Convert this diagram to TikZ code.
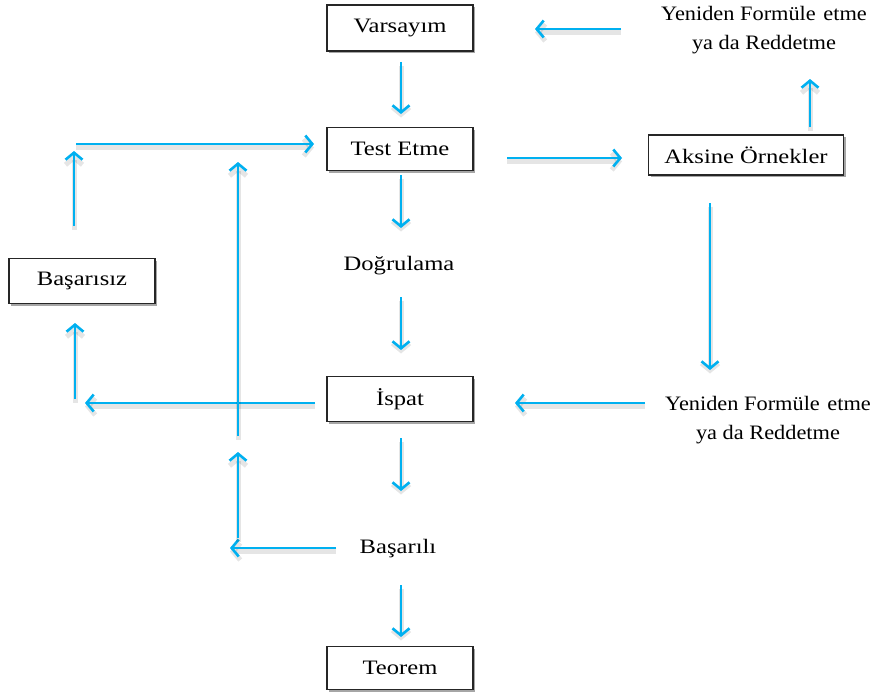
\documentclass[tikz,border=0pt]{standalone}
\usepackage{fontspec}
\setmainfont[FakeStretch=1.2]{Liberation Serif}
\newfontfamily\notefont[FakeStretch=1.09]{Liberation Serif}
\usetikzlibrary{arrows.meta,shadows}
\definecolor{arrowblue}{HTML}{00B0F0}
\tikzset{
  every node/.style={font=\fontsize{20.5}{29}\selectfont, align=center},
  box/.style={draw=black!85, line width=1.4pt, fill=white, inner sep=0pt,
    drop shadow={shadow xshift=2.2pt, shadow yshift=-2.2pt, fill=black, opacity=0.35}},
  label/.style={inner sep=0pt},
  note/.style={inner sep=0pt, font=\notefont\fontsize{20.5}{29}\selectfont},
  flow/.style={draw=arrowblue, line width=2.6pt,
    -{Straight Barb[length=7pt,width=17pt]},
    preaction={draw=black, opacity=0.10, line width=5pt,
      transform canvas={yshift=-3.5pt}}}
}
\begin{document}
\begin{tikzpicture}[x=1pt,y=-1pt]
\useasboundingbox[fill=white] (0,0) rectangle (872,693);

% boxed steps
\node[box, minimum width=146pt, minimum height=46pt] (hyp)  at (400,28)  {Varsayım};
\node[box, minimum width=146pt, minimum height=43pt] (test) at (400,149) {Test Etme};
\node[box, minimum width=195pt, minimum height=40pt] (cex)  at (746,155) {Aksine Örnekler};
\node[box, minimum width=146pt, minimum height=45pt] (fail) at (82,281)  {Başarısız};
\node[box, minimum width=146pt, minimum height=45pt] (proof) at (400,399) {İspat};
\node[box, minimum width=146pt, minimum height=43pt] (thm)  at (400,668) {Teorem};

% free labels
\node[note] (refA) at (764,30)  {Yeniden Formüle\hspace{2pt} etme\\ya da Reddetme};
\node[label] (verif) at (399,266) {Doğrulama};
\node[note] (refB) at (768,420) {Yeniden Formüle\hspace{2pt} etme\\ya da Reddetme};
\node[label] (succ) at (398,549) {Başarılı};

% arrow end points
\coordinate (a1s) at (401,62);  \coordinate (a1e) at (401,114);
\coordinate (a2s) at (401,175); \coordinate (a2e) at (401,228);
\coordinate (a3s) at (401,297); \coordinate (a3e) at (401,350);
\coordinate (a4s) at (401,438); \coordinate (a4e) at (401,491);
\coordinate (a5s) at (401,585); \coordinate (a5e) at (401,637);
\coordinate (a6s) at (507,158); \coordinate (a6e) at (622,158);
\coordinate (a7s) at (810,127); \coordinate (a7e) at (810,79);
\coordinate (a8s) at (621,29);  \coordinate (a8e) at (535,29);
\coordinate (a9s) at (710,203); \coordinate (a9e) at (710,370);
\coordinate (b1s) at (645,403); \coordinate (b1e) at (515,403);
\coordinate (b2s) at (315,403); \coordinate (b2e) at (85,403);
\coordinate (b3s) at (75,399);  \coordinate (b3e) at (75,323);
\coordinate (b4s) at (74,226);  \coordinate (b4e) at (74,151);
\coordinate (b5s) at (76,144);  \coordinate (b5e) at (314,144);
\coordinate (b6s) at (238,436); \coordinate (b6e) at (238,162);
\coordinate (b7s) at (336,548); \coordinate (b7e) at (230,548);
\coordinate (b8s) at (238,538); \coordinate (b8e) at (238,452);

\foreach \a in {a1,a2,a3,a4,a5,a6,a7,a8,a9,b1,b2,b3,b4,b5,b6,b7,b8}
  \draw[flow] (\a s) -- (\a e);
\end{tikzpicture}
\end{document}
